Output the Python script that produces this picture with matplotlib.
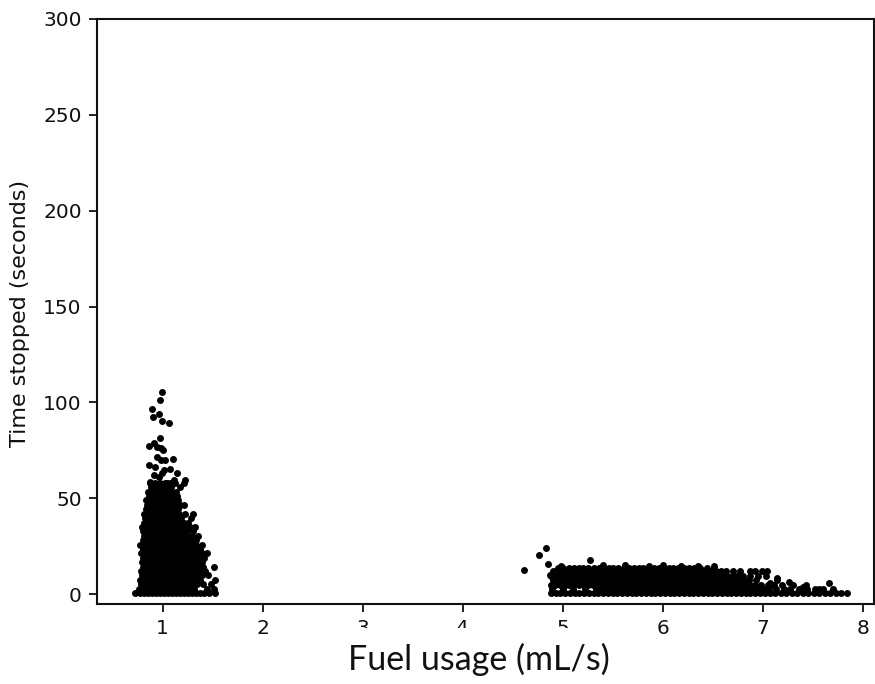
import matplotlib
matplotlib.use("Agg")
import matplotlib.pyplot as plt
from matplotlib.patches import Rectangle

plt.rcParams["font.family"] = ["DejaVu Sans"]

# ---------------- data ----------------
# left cluster (idle, ~1 mL/s): rows of (time stopped, [fuel usage values])
left_rows = [
    (0.5,  [0.72, 0.77, 0.81, 0.85, 0.89, 0.93, 0.97, 1.01, 1.05, 1.09, 1.13, 1.17, 1.21, 1.25, 1.29, 1.33, 1.37, 1.41, 1.46, 1.52]),
    (2.8,  [0.76, 0.80, 0.84, 0.88, 0.92, 0.96, 1.00, 1.04, 1.08, 1.12, 1.16, 1.20, 1.24, 1.28, 1.31, 1.44, 1.51]),
    (5.1,  [0.78, 0.82, 0.86, 0.90, 0.94, 0.98, 1.02, 1.06, 1.10, 1.14, 1.18, 1.22, 1.26, 1.30, 1.34, 1.40, 1.48]),
    (7.4,  [0.77, 0.81, 0.85, 0.89, 0.93, 0.97, 1.01, 1.05, 1.09, 1.13, 1.17, 1.21, 1.25, 1.29, 1.33, 1.37, 1.52]),
    (9.7,  [0.79, 0.83, 0.87, 0.91, 0.95, 0.99, 1.03, 1.07, 1.11, 1.15, 1.19, 1.23, 1.27, 1.31, 1.35, 1.39, 1.45]),
    (12.0, [0.78, 0.82, 0.86, 0.90, 0.94, 0.98, 1.02, 1.06, 1.10, 1.14, 1.18, 1.22, 1.26, 1.30, 1.34, 1.38, 1.42]),
    (14.3, [0.80, 0.84, 0.88, 0.92, 0.96, 1.00, 1.04, 1.08, 1.12, 1.16, 1.20, 1.24, 1.28, 1.32, 1.36, 1.40, 1.51]),
    (16.6, [0.79, 0.83, 0.87, 0.91, 0.95, 0.99, 1.03, 1.07, 1.11, 1.15, 1.19, 1.23, 1.27, 1.31, 1.35, 1.39]),
    (18.9, [0.80, 0.84, 0.88, 0.92, 0.96, 1.00, 1.04, 1.08, 1.12, 1.16, 1.20, 1.24, 1.28, 1.32, 1.36, 1.41]),
    (21.2, [0.78, 0.83, 0.87, 0.91, 0.95, 0.99, 1.03, 1.07, 1.11, 1.15, 1.19, 1.23, 1.27, 1.31, 1.35, 1.39, 1.44]),
    (23.5, [0.80, 0.84, 0.88, 0.92, 0.96, 1.00, 1.04, 1.08, 1.12, 1.16, 1.20, 1.24, 1.28, 1.32, 1.37]),
    (25.8, [0.77, 0.81, 0.85, 0.89, 0.93, 0.97, 1.01, 1.05, 1.09, 1.13, 1.17, 1.21, 1.25, 1.29, 1.33, 1.39]),
    (28.1, [0.80, 0.84, 0.88, 0.92, 0.96, 1.00, 1.04, 1.08, 1.12, 1.16, 1.20, 1.24, 1.28, 1.33]),
    (30.4, [0.81, 0.85, 0.89, 0.93, 0.97, 1.01, 1.05, 1.09, 1.13, 1.17, 1.21, 1.25, 1.29, 1.35]),
    (32.7, [0.80, 0.84, 0.88, 0.92, 0.96, 1.00, 1.04, 1.08, 1.12, 1.16, 1.20, 1.24, 1.30]),
    (35.0, [0.79, 0.83, 0.87, 0.91, 0.95, 0.99, 1.03, 1.07, 1.11, 1.15, 1.19, 1.23, 1.27, 1.32]),
    (37.3, [0.81, 0.85, 0.89, 0.93, 0.97, 1.01, 1.05, 1.09, 1.13, 1.17, 1.21, 1.25]),
    (39.6, [0.82, 0.86, 0.90, 0.94, 0.98, 1.02, 1.06, 1.10, 1.14, 1.18, 1.28]),
    (41.9, [0.81, 0.85, 0.89, 0.93, 0.97, 1.01, 1.05, 1.09, 1.13, 1.16, 1.22, 1.30]),
    (44.2, [0.83, 0.87, 0.91, 0.95, 0.99, 1.03, 1.07, 1.11, 1.15]),
    (46.5, [0.84, 0.88, 0.92, 0.96, 1.00, 1.04, 1.08, 1.12, 1.17, 1.21]),
    (48.8, [0.83, 0.87, 0.91, 0.95, 0.99, 1.03, 1.07, 1.11, 1.15]),
    (51.1, [0.86, 0.90, 0.94, 0.98, 1.02, 1.06, 1.10, 1.14]),
    (53.4, [0.85, 0.89, 0.93, 0.97, 1.01, 1.05, 1.09, 1.13]),
    (55.7, [0.88, 0.92, 0.96, 1.00, 1.04, 1.08, 1.17]),
    (58.0, [0.87, 0.92, 0.97, 1.02, 1.07, 1.12, 1.21]),
]
left_extra_x = [0.87, 1.04, 1.11, 1.22, 0.91, 0.96, 0.99, 1.14, 1.07, 0.92, 0.86, 1.01,
                0.94, 0.98, 1.02, 1.10, 0.94, 0.98, 1.00, 0.91, 0.86, 0.97, 1.06, 0.99,
                0.96, 0.90, 0.89, 0.97, 0.99]
left_extra_y = [58.6, 57.8, 59.5, 59.5, 62.1, 61.2, 63.0, 63.0, 65.0, 66.1, 67.3, 64.5,
                71.3, 69.9, 69.9, 70.3, 76.9, 76.0, 75.1, 78.6, 77.4, 81.2, 89.4, 90.4,
                93.7, 92.5, 96.4, 101.2, 105.2]

# right cluster (driving, ~5-8 mL/s)
right_rows = [
    (0.3,  [4.88, 4.93, 4.97, 5.02, 5.07, 5.12, 5.16, 5.21, 5.26, 5.31, 5.35, 5.40, 5.45, 5.50, 5.54, 5.59,
            5.64, 5.69, 5.73, 5.78, 5.83, 5.88, 5.92, 5.97, 6.02, 6.07, 6.11, 6.16, 6.21, 6.26, 6.30, 6.35,
            6.40, 6.45, 6.49, 6.54, 6.59, 6.64, 6.68, 6.73, 6.78, 6.83, 6.87, 6.92, 6.97, 7.02, 7.07, 7.12,
            7.18, 7.23, 7.29, 7.34, 7.40, 7.45, 7.51, 7.56, 7.62, 7.67, 7.73, 7.78, 7.84]),
    (2.6,  [4.89, 5.00, 5.10, 5.22, 5.33, 5.38, 5.43, 5.47, 5.52, 5.57, 5.62, 5.66, 5.71, 5.76, 5.81, 5.85,
            5.90, 5.95, 6.00, 6.04, 6.09, 6.14, 6.19, 6.23, 6.28, 6.33, 6.38, 6.42, 6.47, 6.52, 6.57, 6.61,
            6.66, 6.71, 6.76, 6.80, 6.85, 6.90, 6.95, 7.00, 7.06, 7.13, 7.21, 7.27, 7.36, 7.44, 7.52, 7.60, 7.70]),
    (4.9,  [4.88, 4.92, 4.97, 5.02, 5.06, 5.11, 5.16, 5.21, 5.25, 5.30, 5.35, 5.40, 5.44, 5.49, 5.54, 5.59,
            5.63, 5.68, 5.73, 5.78, 5.82, 5.87, 5.92, 5.97, 6.01, 6.06, 6.11, 6.16, 6.20, 6.25, 6.30, 6.35,
            6.39, 6.44, 6.49, 6.54, 6.58, 6.63, 6.68, 6.73, 6.77, 6.82, 6.87, 6.92, 6.98, 7.05, 7.11, 7.19,
            7.30, 7.43]),
    (7.2,  [4.90, 4.95, 5.00, 5.04, 5.09, 5.14, 5.19, 5.23, 5.28, 5.33, 5.38, 5.42, 5.47, 5.52, 5.57, 5.61,
            5.66, 5.71, 5.76, 5.80, 5.85, 5.90, 5.95, 5.99, 6.04, 6.09, 6.14, 6.18, 6.23, 6.28, 6.33, 6.37,
            6.42, 6.47, 6.52, 6.56, 6.61, 6.66, 6.71, 6.76, 6.81, 6.86, 6.93, 7.14]),
    (9.5,  [4.88, 4.93, 4.98, 5.02, 5.07, 5.12, 5.17, 5.21, 5.26, 5.31, 5.36, 5.40, 5.45, 5.50, 5.55, 5.59,
            5.64, 5.69, 5.74, 5.78, 5.83, 5.88, 5.93, 5.97, 6.02, 6.07, 6.12, 6.16, 6.21, 6.26, 6.31, 6.35,
            6.40, 6.45, 6.50, 6.54, 6.59, 6.64, 6.69, 6.74, 6.80, 6.87, 6.95, 7.03]),
    (11.8, [4.90, 4.96, 5.00, 5.05, 5.09, 5.14, 5.19, 5.24, 5.28, 5.33, 5.38, 5.43, 5.47, 5.52, 5.57, 5.62,
            5.66, 5.71, 5.76, 5.81, 5.85, 5.90, 5.95, 6.00, 6.04, 6.09, 6.14, 6.19, 6.23, 6.28, 6.33, 6.38,
            6.43, 6.48, 6.53, 6.58, 6.63, 6.70, 6.77, 6.87, 6.92, 6.99, 7.04]),
    (13.4, [4.95, 5.00, 5.06, 5.11, 5.16, 5.20, 5.25, 5.31, 5.36, 5.41, 5.46, 5.50, 5.55, 5.61, 5.66, 5.71,
            5.76, 5.80, 5.85, 5.91, 5.96, 6.01, 6.06, 6.10, 6.15, 6.21, 6.26, 6.31, 6.37, 6.44, 6.51]),
]
right_extra_x = [4.61, 4.76, 4.83, 4.85, 4.87, 4.98, 5.27, 5.40, 5.62, 5.86, 6.00, 6.18, 6.35, 6.51,
                 7.07, 7.14, 7.26, 7.66, 7.40, 7.56]
right_extra_y = [12.5, 20.3, 24.2, 15.5, 9.9, 14.8, 17.7, 14.9, 15.0, 14.8, 15.2, 14.7, 14.5, 14.6,
                 5.6, 8.2, 6.1, 5.9, 3.5, 2.5]

x_ticks = [1, 2, 3, 4, 5, 6, 7, 8]
y_ticks = [0, 50, 100, 150, 200, 250, 300]
x_label = "Fuel usage (mL/s)"
y_label = "Time stopped (seconds)"

# ---------------- assemble ----------------
xs, ys = [], []
for rows, ex, ey in ((left_rows, left_extra_x, left_extra_y),
                     (right_rows, right_extra_x, right_extra_y)):
    for yv, row in rows:
        xs.extend(row)
        ys.extend([yv] * len(row))
    xs.extend(ex)
    ys.extend(ey)

W, H = 875, 684
fig = plt.figure(figsize=(W / 100, H / 100), dpi=100)
ax = fig.add_axes([97 / W, 1 - 604 / H, (874 - 97) / W, (604 - 19) / H])
ax.scatter(xs, ys, s=25, c="black", linewidths=0)

ax.set_xlim(0.343, 8.113)
ax.set_ylim(-5.2, 300)
ax.set_xticks(x_ticks)
ax.set_yticks(y_ticks)
ax.tick_params(labelsize=14.5, length=6, width=1.3, pad=5, colors="#111111")
for s in ax.spines.values():
    s.set_linewidth(1.5)
    s.set_color("#111111")

fig.text(20 / W, 1 - 313 / H, y_label, rotation=90, ha="center", va="center",
         fontsize=16, color="#111111")

# pasted x-axis title on a white box that hides the lower part of some tick labels
fig.patches.append(Rectangle((330 / W, 0), (622 - 330) / W, 1 - 628 / H,
                             transform=fig.transFigure, facecolor="white",
                             edgecolor="none", zorder=5))
fig.text(478.5 / W, 1 - 659 / H, x_label, ha="center", va="center",
         fontsize=24.5, family=["Lato", "DejaVu Sans"], color="#111111", zorder=6)

fig.savefig("out.png", dpi=100)
